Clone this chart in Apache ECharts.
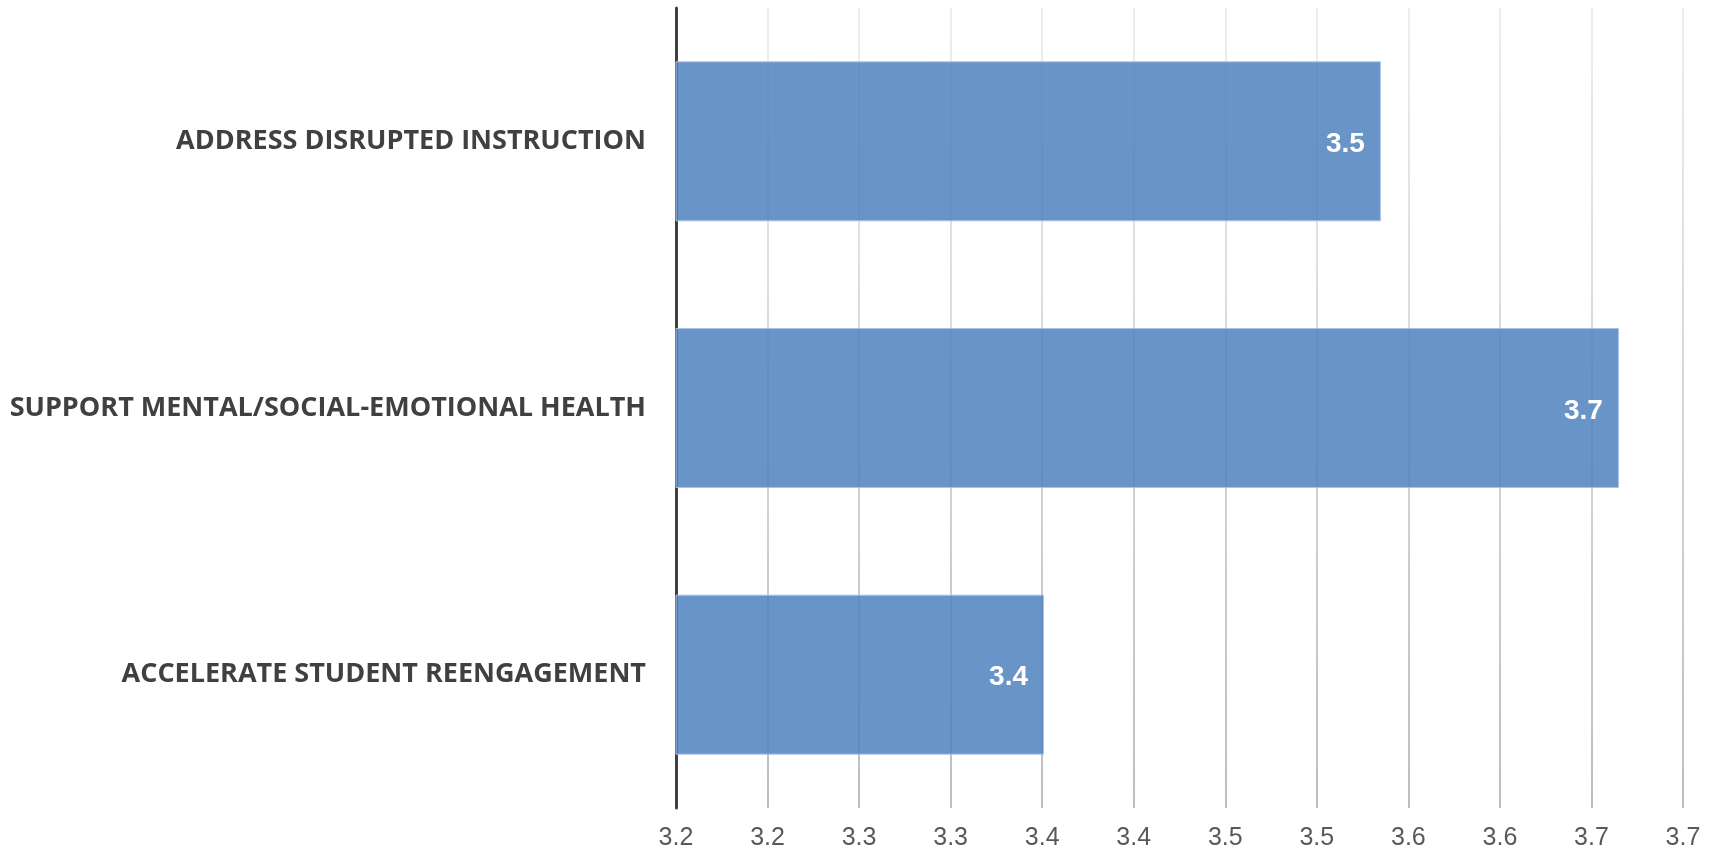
<!DOCTYPE html>
<html>
<head>
<meta charset="utf-8">
<title>Priority ratings</title>
<script src="https://cdn.jsdelivr.net/npm/echarts@6/dist/echarts.min.js"></script>
<style>
  html, body { margin: 0; padding: 0; background: #ffffff; }
  #chart { width: 1724px; height: 865px; }
</style>
</head>
<body>
<div id="chart"></div>
<script>
// Categories, listed bottom to top as the category axis draws them
const categories = [
  'ACCELERATE STUDENT REENGAGEMENT',
  'SUPPORT MENTAL/SOCIAL-EMOTIONAL HEALTH',
  'ADDRESS DISRUPTED INSTRUCTION'
];

// Average rating for each category
const ratings = [3.401, 3.715, 3.585];

// Value-axis tick labels (ticks every 0.05 from 3.20 to 3.75, shown to one decimal)
const tickLabels = ['3.2', '3.2', '3.3', '3.3', '3.4', '3.4', '3.5', '3.5', '3.6', '3.6', '3.7', '3.7'];

const axisMin = 3.2;
const axisMax = 3.75;
const axisStep = 0.05;

// One-decimal label, truncated the same way as the axis
function oneDecimal(v) {
  return (Math.floor(v * 10 + 1e-9) / 10).toFixed(1);
}

const chart = echarts.init(document.getElementById('chart'), null, { renderer: 'canvas' });

const gridTop = 8;
const gridBottom = 57;
const chartHeight = 865;

chart.setOption({
  animation: false,
  backgroundColor: '#ffffff',
  grid: { left: 676, right: 41, top: gridTop, bottom: gridBottom, containLabel: false },
  xAxis: {
    type: 'value',
    min: axisMin,
    max: axisMax,
    interval: axisStep,
    axisLine: { show: false },
    axisTick: { show: false },
    splitLine: {
      show: true,
      lineStyle: {
        width: 1.5,
        color: {
          type: 'linear', global: true,
          x: 0, y: gridTop, x2: 0, y2: chartHeight - gridBottom,
          colorStops: [
            { offset: 0, color: '#e8e8e8' },
            { offset: 1, color: '#a8a8a8' }
          ]
        }
      }
    },
    axisLabel: {
      margin: 18,
      color: '#595959',
      fontFamily: 'Liberation Sans, Arial, sans-serif',
      fontSize: 25,
      formatter: function (value, index) { return tickLabels[index]; }
    }
  },
  yAxis: {
    type: 'category',
    data: categories,
    axisLine: { show: true, lineStyle: { color: '#404040', width: 3 } },
    axisTick: { show: false },
    splitLine: { show: false },
    axisLabel: {
      margin: 30,
      color: '#404040',
      fontFamily: 'Open Sans, sans-serif',
      fontWeight: 'bold',
      fontSize: 27
    }
  },
  series: [{
    type: 'bar',
    data: ratings,
    barWidth: '60%',
    itemStyle: {
      color: 'rgba(79,129,189,0.85)',
      borderColor: 'rgba(170,195,228,1)',
      borderWidth: 1
    },
    label: {
      show: true,
      position: 'insideRight',
      distance: 16,
      offset: [0, 3],
      color: '#ffffff',
      fontFamily: 'Liberation Sans, Arial, sans-serif',
      fontWeight: 'bold',
      fontSize: 28,
      formatter: function (p) { return oneDecimal(p.value); }
    }
  }]
});
</script>
</body>
</html>
